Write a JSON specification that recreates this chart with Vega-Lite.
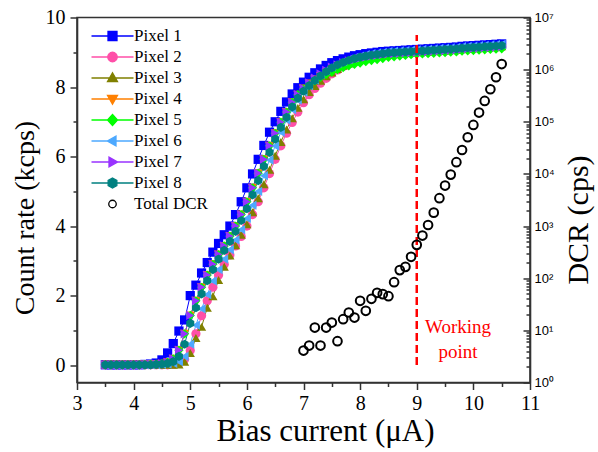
{
  "$schema": "https://vega.github.io/schema/vega-lite/v6.json",
  "width": 453,
  "height": 365,
  "autosize": {"type": "none"},
  "padding": {"left": 77, "top": 17.5, "right": 68, "bottom": 69.5},
  "background": "white",
  "config": {
    "view": {"stroke": "#333333", "strokeWidth": 1.6},
    "font": "Liberation Serif",
    "axis": {"grid": false, "domainColor": "#333333", "domainWidth": 1.6, "tickColor": "#333333", "tickWidth": 1.5, "labelColor": "black", "titleColor": "black", "titleFontWeight": "normal", "labelOverlap": false, "labelFlush": false, "labelFont": "Liberation Serif", "titleFont": "Liberation Serif"}
  },
  "datasets": {
    "pix": [
      {"x":3.5,"P1":0.01,"P2":0.01,"P3":0.01,"P4":0.01,"P5":0.01,"P6":0.01,"P7":0.01,"P8":0.01},
      {"x":3.6,"P1":0.01,"P2":0.01,"P3":0.01,"P4":0.01,"P5":0.01,"P6":0.01,"P7":0.01,"P8":0.01},
      {"x":3.7,"P1":0.01,"P2":0.01,"P3":0.01,"P4":0.01,"P5":0.01,"P6":0.01,"P7":0.01,"P8":0.01},
      {"x":3.8,"P1":0.01,"P2":0.01,"P3":0.01,"P4":0.01,"P5":0.01,"P6":0.01,"P7":0.01,"P8":0.01},
      {"x":3.9,"P1":0.01,"P2":0.01,"P3":0.01,"P4":0.01,"P5":0.01,"P6":0.01,"P7":0.01,"P8":0.01},
      {"x":4.0,"P1":0.01,"P2":0.01,"P3":0.01,"P4":0.01,"P5":0.01,"P6":0.01,"P7":0.01,"P8":0.01},
      {"x":4.1,"P1":0.01,"P2":0.01,"P3":0.01,"P4":0.01,"P5":0.01,"P6":0.01,"P7":0.01,"P8":0.01},
      {"x":4.2,"P1":0.02,"P2":0.01,"P3":0.01,"P4":0.01,"P5":0.01,"P6":0.01,"P7":0.01,"P8":0.01},
      {"x":4.3,"P1":0.03,"P2":0.01,"P3":0.01,"P4":0.02,"P5":0.02,"P6":0.01,"P7":0.02,"P8":0.01},
      {"x":4.4,"P1":0.06,"P2":0.01,"P3":0.01,"P4":0.03,"P5":0.03,"P6":0.01,"P7":0.03,"P8":0.02},
      {"x":4.5,"P1":0.15,"P2":0.01,"P3":0.01,"P4":0.04,"P5":0.04,"P6":0.02,"P7":0.04,"P8":0.03},
      {"x":4.6,"P1":0.35,"P2":0.01,"P3":0.01,"P4":0.08,"P5":0.08,"P6":0.03,"P7":0.08,"P8":0.05},
      {"x":4.7,"P1":0.62,"P2":0.02,"P3":0.01,"P4":0.18,"P5":0.18,"P6":0.05,"P7":0.18,"P8":0.1},
      {"x":4.8,"P1":0.98,"P2":0.05,"P3":0.02,"P4":0.43,"P5":0.43,"P6":0.1,"P7":0.43,"P8":0.25},
      {"x":4.9,"P1":1.3,"P2":0.17,"P3":0.1,"P4":0.9,"P5":0.9,"P6":0.25,"P7":0.9,"P8":0.6},
      {"x":5.0,"P1":2.0,"P2":0.42,"P3":0.35,"P4":1.43,"P5":1.43,"P6":0.6,"P7":1.43,"P8":1.2},
      {"x":5.1,"P1":2.3,"P2":0.9,"P3":0.78,"P4":1.85,"P5":1.85,"P6":1.15,"P7":1.85,"P8":1.65},
      {"x":5.2,"P1":2.65,"P2":1.42,"P3":1.1,"P4":2.24,"P5":2.24,"P6":1.62,"P7":2.24,"P8":2.05},
      {"x":5.3,"P1":2.95,"P2":1.85,"P3":1.65,"P4":2.59,"P5":2.59,"P6":2.03,"P7":2.59,"P8":2.43},
      {"x":5.4,"P1":3.25,"P2":2.24,"P3":1.98,"P4":2.9,"P5":2.9,"P6":2.42,"P7":2.9,"P8":2.75},
      {"x":5.5,"P1":3.5,"P2":2.59,"P3":2.45,"P4":3.18,"P5":3.18,"P6":2.75,"P7":3.18,"P8":3.05},
      {"x":5.6,"P1":3.75,"P2":2.9,"P3":2.83,"P4":3.43,"P5":3.43,"P6":3.05,"P7":3.43,"P8":3.3},
      {"x":5.7,"P1":4.0,"P2":3.17,"P3":3.15,"P4":3.71,"P5":3.71,"P6":3.32,"P7":3.71,"P8":3.56},
      {"x":5.8,"P1":4.33,"P2":3.43,"P3":3.45,"P4":4.0,"P5":4.0,"P6":3.6,"P7":4.0,"P8":3.85},
      {"x":5.9,"P1":4.7,"P2":3.7,"P3":3.75,"P4":4.33,"P5":4.33,"P6":3.9,"P7":4.33,"P8":4.16},
      {"x":6.0,"P1":5.1,"P2":4.0,"P3":4.05,"P4":4.7,"P5":4.7,"P6":4.22,"P7":4.7,"P8":4.5},
      {"x":6.1,"P1":5.5,"P2":4.33,"P3":4.4,"P4":5.1,"P5":5.1,"P6":4.6,"P7":5.1,"P8":4.9},
      {"x":6.2,"P1":5.92,"P2":4.7,"P3":4.8,"P4":5.52,"P5":5.52,"P6":5.0,"P7":5.52,"P8":5.31},
      {"x":6.3,"P1":6.32,"P2":5.1,"P3":5.2,"P4":5.92,"P5":5.92,"P6":5.45,"P7":5.92,"P8":5.72},
      {"x":6.4,"P1":6.7,"P2":5.51,"P3":5.62,"P4":6.31,"P5":6.31,"P6":5.9,"P7":6.31,"P8":6.12},
      {"x":6.5,"P1":7.0,"P2":5.92,"P3":6.02,"P4":6.67,"P5":6.67,"P6":6.3,"P7":6.67,"P8":6.5},
      {"x":6.6,"P1":7.3,"P2":6.31,"P3":6.42,"P4":6.99,"P5":6.99,"P6":6.7,"P7":6.99,"P8":6.84},
      {"x":6.7,"P1":7.57,"P2":6.67,"P3":6.78,"P4":7.28,"P5":7.28,"P6":7.05,"P7":7.28,"P8":7.13},
      {"x":6.8,"P1":7.8,"P2":6.98,"P3":7.1,"P4":7.56,"P5":7.56,"P6":7.35,"P7":7.56,"P8":7.43},
      {"x":6.9,"P1":7.98,"P2":7.28,"P3":7.4,"P4":7.78,"P5":7.78,"P6":7.62,"P7":7.78,"P8":7.68},
      {"x":7.0,"P1":8.14,"P2":7.55,"P3":7.65,"P4":7.96,"P5":7.94,"P6":7.85,"P7":7.96,"P8":7.88},
      {"x":7.1,"P1":8.28,"P2":7.78,"P3":7.86,"P4":8.1,"P5":8.07,"P6":8.04,"P7":8.12,"P8":8.04},
      {"x":7.2,"P1":8.41,"P2":7.96,"P3":8.03,"P4":8.22,"P5":8.18,"P6":8.2,"P7":8.26,"P8":8.19},
      {"x":7.3,"P1":8.52,"P2":8.11,"P3":8.18,"P4":8.32,"P5":8.28,"P6":8.35,"P7":8.38,"P8":8.32},
      {"x":7.4,"P1":8.62,"P2":8.25,"P3":8.31,"P4":8.41,"P5":8.36,"P6":8.48,"P7":8.48,"P8":8.44},
      {"x":7.5,"P1":8.7,"P2":8.38,"P3":8.42,"P4":8.49,"P5":8.43,"P6":8.58,"P7":8.57,"P8":8.55},
      {"x":7.6,"P1":8.76,"P2":8.49,"P3":8.52,"P4":8.56,"P5":8.5,"P6":8.67,"P7":8.64,"P8":8.64},
      {"x":7.7,"P1":8.81,"P2":8.59,"P3":8.61,"P4":8.62,"P5":8.56,"P6":8.74,"P7":8.7,"P8":8.71},
      {"x":7.8,"P1":8.86,"P2":8.67,"P3":8.68,"P4":8.67,"P5":8.61,"P6":8.8,"P7":8.75,"P8":8.77},
      {"x":7.9,"P1":8.9,"P2":8.74,"P3":8.74,"P4":8.71,"P5":8.65,"P6":8.85,"P7":8.79,"P8":8.82},
      {"x":8.0,"P1":8.93,"P2":8.79,"P3":8.79,"P4":8.75,"P5":8.69,"P6":8.89,"P7":8.83,"P8":8.86},
      {"x":8.1,"P1":8.96,"P2":8.84,"P3":8.84,"P4":8.79,"P5":8.73,"P6":8.93,"P7":8.86,"P8":8.89},
      {"x":8.2,"P1":8.98,"P2":8.87,"P3":8.88,"P4":8.82,"P5":8.76,"P6":8.96,"P7":8.89,"P8":8.92},
      {"x":8.3,"P1":9.0,"P2":8.9,"P3":8.91,"P4":8.85,"P5":8.79,"P6":8.98,"P7":8.91,"P8":8.94},
      {"x":8.4,"P1":9.02,"P2":8.92,"P3":8.94,"P4":8.87,"P5":8.82,"P6":9.0,"P7":8.93,"P8":8.96},
      {"x":8.5,"P1":9.03,"P2":8.94,"P3":8.96,"P4":8.89,"P5":8.85,"P6":9.02,"P7":8.95,"P8":8.98},
      {"x":8.6,"P1":9.04,"P2":8.95,"P3":8.98,"P4":8.91,"P5":8.87,"P6":9.03,"P7":8.96,"P8":8.99},
      {"x":8.7,"P1":9.05,"P2":8.96,"P3":8.99,"P4":8.92,"P5":8.89,"P6":9.04,"P7":8.97,"P8":9.0},
      {"x":8.8,"P1":9.06,"P2":8.97,"P3":9.0,"P4":8.94,"P5":8.91,"P6":9.05,"P7":8.98,"P8":9.01},
      {"x":8.9,"P1":9.07,"P2":8.98,"P3":9.0,"P4":8.95,"P5":8.93,"P6":9.06,"P7":8.99,"P8":9.02},
      {"x":9.0,"P1":9.08,"P2":8.99,"P3":9.01,"P4":8.96,"P5":8.94,"P6":9.07,"P7":9.0,"P8":9.03},
      {"x":9.1,"P1":9.09,"P2":9.0,"P3":9.02,"P4":8.97,"P5":8.95,"P6":9.08,"P7":9.01,"P8":9.04},
      {"x":9.2,"P1":9.1,"P2":9.01,"P3":9.03,"P4":8.98,"P5":8.96,"P6":9.09,"P7":9.02,"P8":9.05},
      {"x":9.3,"P1":9.11,"P2":9.02,"P3":9.04,"P4":8.99,"P5":8.97,"P6":9.1,"P7":9.03,"P8":9.06},
      {"x":9.4,"P1":9.12,"P2":9.03,"P3":9.05,"P4":9.0,"P5":8.98,"P6":9.11,"P7":9.04,"P8":9.07},
      {"x":9.5,"P1":9.13,"P2":9.04,"P3":9.06,"P4":9.01,"P5":8.99,"P6":9.12,"P7":9.05,"P8":9.08},
      {"x":9.6,"P1":9.14,"P2":9.05,"P3":9.07,"P4":9.02,"P5":9.0,"P6":9.13,"P7":9.06,"P8":9.09},
      {"x":9.7,"P1":9.15,"P2":9.06,"P3":9.08,"P4":9.03,"P5":9.01,"P6":9.14,"P7":9.07,"P8":9.1},
      {"x":9.8,"P1":9.17,"P2":9.08,"P3":9.1,"P4":9.05,"P5":9.03,"P6":9.16,"P7":9.09,"P8":9.12},
      {"x":9.9,"P1":9.18,"P2":9.09,"P3":9.11,"P4":9.06,"P5":9.04,"P6":9.17,"P7":9.1,"P8":9.13},
      {"x":10.0,"P1":9.19,"P2":9.1,"P3":9.12,"P4":9.07,"P5":9.05,"P6":9.18,"P7":9.11,"P8":9.14},
      {"x":10.1,"P1":9.2,"P2":9.11,"P3":9.13,"P4":9.08,"P5":9.06,"P6":9.19,"P7":9.12,"P8":9.15},
      {"x":10.2,"P1":9.21,"P2":9.12,"P3":9.14,"P4":9.09,"P5":9.07,"P6":9.2,"P7":9.13,"P8":9.16},
      {"x":10.3,"P1":9.22,"P2":9.13,"P3":9.15,"P4":9.1,"P5":9.08,"P6":9.21,"P7":9.14,"P8":9.17},
      {"x":10.4,"P1":9.23,"P2":9.14,"P3":9.16,"P4":9.11,"P5":9.09,"P6":9.22,"P7":9.15,"P8":9.18},
      {"x":10.5,"P1":9.24,"P2":9.15,"P3":9.17,"P4":9.12,"P5":9.1,"P6":9.23,"P7":9.16,"P8":9.19}
    ],
    "dcr": [
      {"x":7.0,"dcr":4.1},{"x":7.1,"dcr":5.1},{"x":7.2,"dcr":11.3},{"x":7.3,"dcr":5.1},
      {"x":7.4,"dcr":11.3},{"x":7.5,"dcr":14.1},{"x":7.6,"dcr":6.2},{"x":7.7,"dcr":16.4},
      {"x":7.8,"dcr":22},{"x":7.9,"dcr":17.6},{"x":8.0,"dcr":36.8},{"x":8.1,"dcr":23.7},
      {"x":8.2,"dcr":40.2},{"x":8.3,"dcr":52.4},{"x":8.4,"dcr":49.5},{"x":8.5,"dcr":45.3},
      {"x":8.6,"dcr":84},{"x":8.7,"dcr":143},{"x":8.8,"dcr":165},{"x":8.9,"dcr":257},
      {"x":9.0,"dcr":436},{"x":9.1,"dcr":658},{"x":9.2,"dcr":1050},{"x":9.3,"dcr":1810},
      {"x":9.4,"dcr":3430},{"x":9.5,"dcr":5980},{"x":9.6,"dcr":9700},{"x":9.7,"dcr":16800},
      {"x":9.8,"dcr":28800},{"x":9.9,"dcr":50600},{"x":10.0,"dcr":87000},{"x":10.1,"dcr":150000},
      {"x":10.2,"dcr":251000},{"x":10.3,"dcr":421000},{"x":10.4,"dcr":714000},{"x":10.5,"dcr":1280000}
    ],
    "keys": [
      {"series":"P1","x":3},{"series":"P2","x":3},{"series":"P3","x":3},{"series":"P4","x":3},{"series":"P5","x":3},
      {"series":"P6","x":3},{"series":"P7","x":3},{"series":"P8","x":3},{"series":"DCR","x":3}
    ]
  },
  "encoding": {
    "x": {
      "field": "x", "type": "quantitative",
      "scale": {"domain": [3, 11], "nice": false, "zero": false},
      "axis": {
        "title": "Bias current (μA)", "titleFontSize": 31, "titleX": 248, "titleY": 49, "titleAlign": "center", "titleBaseline": "middle",
        "values": [3,3.5,4,4.5,5,5.5,6,6.5,7,7.5,8,8.5,9,9.5,10,10.5,11],
        "labelExpr": "datum.value % 1 == 0 ? format(datum.value, 'd') : ''",
        "labelFontSize": 20, "labelPadding": 4,
        "tickSize": {"condition": {"test": "datum.value % 1 == 0", "value": 7}, "value": 4}
      }
    }
  },
  "layer": [
    {
      "encoding": {
        "y": {
          "field": "y", "type": "quantitative",
          "scale": {"domain": [-0.5, 10], "nice": false, "zero": false},
          "axis": {
            "orient": "left", "title": "Count rate (kcps)", "titleFontSize": 28, "titleAngle": -90, "titleX": -52, "titleY": 200, "titleAlign": "center", "titleBaseline": "middle",
            "values": [0,1,2,3,4,5,6,7,8,9,10],
            "labelExpr": "datum.value % 2 == 0 ? format(datum.value, 'd') : ''",
            "labelFontSize": 20, "labelPadding": 5,
            "tickSize": {"condition": {"test": "datum.value % 2 == 0", "value": 7}, "value": 4}
          }
        }
      },
      "layer": [
        {
          "data": {"name": "pix"},
          "transform": [{"fold": ["P1","P2","P3","P4","P5","P6","P7","P8"], "as": ["series", "y"]}],
          "mark": {"type": "line", "strokeWidth": 1},
          "encoding": {
            "stroke": {
              "field": "series", "type": "nominal",
              "scale": {"domain": ["P1","P2","P3","P4","P5","P6","P7","P8"], "range": ["#0000ff","#ff4fa8","#808000","#ff8000","#00ff00","#4da9ff","#9933ff","#008080"]},
              "legend": null
            },
            "detail": {"field": "series"}
          }
        },
        {
          "data": {"name": "pix"},
          "transform": [{"fold": ["P1","P2","P3","P4","P5","P6","P7","P8"], "as": ["series", "y"]}],
          "mark": {"type": "point", "filled": true, "size": 85, "opacity": 1},
          "encoding": {
            "color": {
              "field": "series", "type": "nominal",
              "scale": {"domain": ["P1","P2","P3","P4","P5","P6","P7","P8","DCR"], "range": ["#0000ff","#ff4fa8","#808000","#ff8000","#00ff00","#4da9ff","#9933ff","#008080","#000000"]},
              "legend": null
            },
            "shape": {
              "field": "series", "type": "nominal",
              "scale": {"domain": ["P1","P2","P3","P4","P5","P6","P7","P8","DCR"], "range": ["square","circle","triangle-up","triangle-down","diamond","triangle-left","triangle-right","M0,-1L0.87,-0.5L0.87,0.5L0,1L-0.87,0.5L-0.87,-0.5Z","circle"]},
              "legend": null
            },
            "order": {"field": "series", "type": "nominal", "sort": "ascending"}
          }
        },
        {
          "data": {"values": [{"x": 9, "y": 0, "y2": 9.5}]},
          "mark": {"type": "rule", "color": "#ff0000", "strokeWidth": 2.5, "strokeDash": [8, 4]},
          "encoding": {"y2": {"field": "y2"}}
        },
        {
          "data": {"values": [{"x": 9.73, "y": 1.1, "t": "Working"}, {"x": 9.73, "y": 0.38, "t": "point"}]},
          "mark": {"type": "text", "color": "#ff0000", "font": "Liberation Serif", "fontSize": 19, "align": "center", "baseline": "middle"},
          "encoding": {"text": {"field": "t", "type": "nominal"}}
        }
      ]
    },
    {
      "data": {"name": "dcr"},
      "mark": {"type": "point", "filled": false, "size": 75, "strokeWidth": 2, "opacity": 1},
      "encoding": {
        "y": {
          "field": "dcr", "type": "quantitative",
          "scale": {"type": "log", "domain": [1, 10000000], "nice": false},
          "axis": {
            "orient": "right", "title": "DCR (cps)", "titleFontSize": 30, "titleAngle": -90, "titleX": 48, "titleY": 202, "titleAlign": "center", "titleBaseline": "middle",
            "values": [1,2,3,4,5,6,7,8,9,10,20,30,40,50,60,70,80,90,100,200,300,400,500,600,700,800,900,1000,2000,3000,4000,5000,6000,7000,8000,9000,10000,20000,30000,40000,50000,60000,70000,80000,90000,100000,200000,300000,400000,500000,600000,700000,800000,900000,1000000,2000000,3000000,4000000,5000000,6000000,7000000,8000000,9000000,10000000],
            "labelExpr": "abs(log(datum.value)/LN10 - round(log(datum.value)/LN10)) < 0.000001 ? '10' + ['⁰','¹','²','³','⁴','⁵','⁶','⁷'][round(log(datum.value)/LN10)] : ''",
            "labelFont": "Liberation Sans", "labelFontSize": 13, "labelPadding": 11,
            "tickSize": {"condition": {"test": "abs(log(datum.value)/LN10 - round(log(datum.value)/LN10)) < 0.000001", "value": -7}, "value": -4}
          }
        },
        "color": {"datum": "DCR", "legend": null},
        "shape": {"datum": "DCR", "legend": null}
      }
    },
    {
      "data": {"name": "keys"},
      "mark": {"type": "point", "filled": true, "size": 0},
      "encoding": {
        "fill": {
          "field": "series", "type": "nominal",
          "scale": {"domain": ["P1","P2","P3","P4","P5","P6","P7","P8","DCR"], "range": ["#0000ff","#ff4fa8","#808000","#ff8000","#00ff00","#4da9ff","#9933ff","#008080","#ffffff"]},
          "legend": {
            "orient": "none", "legendX": 27, "legendY": 10, "title": null,
            "labelFont": "Liberation Serif", "labelFontSize": 17, "labelColor": "black",
            "symbolSize": 100, "labelOffset": 13, "rowPadding": 3, "padding": 0, "symbolOpacity": 1, "symbolStrokeWidth": 1.3,
            "labelExpr": "datum.value == 'DCR' ? 'Total DCR' : 'Pixel ' + slice(datum.value, 1)"
          }
        },
        "stroke": {
          "field": "series", "type": "nominal",
          "scale": {"domain": ["P1","P2","P3","P4","P5","P6","P7","P8","DCR"], "range": ["#0000ff","#ff4fa8","#808000","#ff8000","#00ff00","#4da9ff","#9933ff","#008080","#000000"]},
          "legend": {
            "orient": "none", "legendX": 27, "legendY": 10, "title": null,
            "labelFont": "Liberation Serif", "labelFontSize": 17, "labelColor": "black",
            "symbolSize": 100, "labelOffset": 13, "rowPadding": 3, "padding": 0, "symbolOpacity": 1, "symbolStrokeWidth": 1.3,
            "labelExpr": "datum.value == 'DCR' ? 'Total DCR' : 'Pixel ' + slice(datum.value, 1)"
          }
        },
        "shape": {
          "field": "series", "type": "nominal",
          "scale": {"domain": ["P1","P2","P3","P4","P5","P6","P7","P8","DCR"], "range": [
            "M-4.2,0H4.2M-0.9,-0.9H0.9V0.9H-0.9Z",
            "M-4.2,0H4.2M-0.95,0A0.95,0.95 0 1,0 0.95,0A0.95,0.95 0 1,0 -0.95,0Z",
            "M-4.2,0H4.2M0,-1.05L1,0.7L-1,0.7Z",
            "M-4.2,0H4.2M0,1.05L1,-0.7L-1,-0.7Z",
            "M-4.2,0H4.2M0,-1.1L1,0L0,1.1L-1,0Z",
            "M-4.2,0H4.2M-1.05,0L0.7,-1L0.7,1Z",
            "M-4.2,0H4.2M1.05,0L-0.7,-1L-0.7,1Z",
            "M-4.2,0H4.2M0,-1L0.87,-0.5L0.87,0.5L0,1L-0.87,0.5L-0.87,-0.5Z",
            "M-0.75,0A0.75,0.75 0 1,0 0.75,0A0.75,0.75 0 1,0 -0.75,0Z"
          ]},
          "legend": {
            "orient": "none", "legendX": 27, "legendY": 10, "title": null,
            "labelFont": "Liberation Serif", "labelFontSize": 17, "labelColor": "black",
            "symbolSize": 100, "labelOffset": 13, "rowPadding": 3, "padding": 0, "symbolOpacity": 1, "symbolStrokeWidth": 1.3,
            "labelExpr": "datum.value == 'DCR' ? 'Total DCR' : 'Pixel ' + slice(datum.value, 1)"
          }
        }
      }
    }
  ],
  "resolve": {"scale": {"y": "independent", "shape": "independent", "stroke": "independent", "fill": "independent"}}
}
